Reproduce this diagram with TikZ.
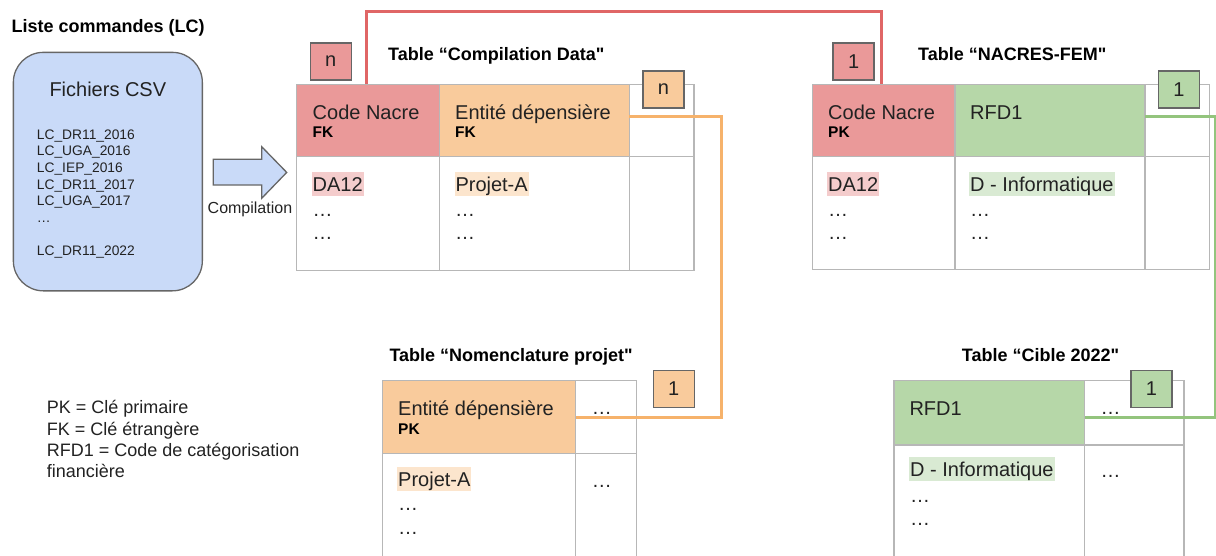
\documentclass[tikz,border=0pt]{standalone}
\usepackage{fontspec}
\setmainfont{Liberation Sans}
\newfontfamily\arialplain{Liberation Sans}
\definecolor{redfill}{HTML}{EA9999}
\definecolor{redline}{HTML}{E06666}
\definecolor{orfill}{HTML}{F9CB9C}
\definecolor{orline}{HTML}{F6B26B}
\definecolor{grfill}{HTML}{B6D7A8}
\definecolor{grline}{HTML}{93C47D}
\definecolor{bluefill}{HTML}{C9DAF8}
\definecolor{redhl}{HTML}{F4CCCC}
\definecolor{orhl}{HTML}{FCE5CD}
\definecolor{grhl}{HTML}{D9EAD3}
\definecolor{gridgray}{HTML}{B7B7B7}
\definecolor{darkgray}{HTML}{666666}
\definecolor{txtc}{HTML}{222222}
\tikzset{
  cell/.style={draw=gridgray, line width=1.2pt, inner sep=0pt, outer sep=0pt, anchor=north west},
  txt/.style={anchor=base west, inner sep=0pt, text=txtc, font=\fontsize{20}{24}\selectfont},
  keytxt/.style={anchor=base west, inner sep=0pt, text=black, font=\fontsize{15.5}{18}\selectfont\bfseries},
  ttl/.style={anchor=base west, inner sep=0pt, text=black, font=\arialplain\fontsize{18}{21}\selectfont\bfseries},
  hl/.style={txt, fill=#1, inner xsep=1pt, inner ysep=0pt, text height=19.5pt, text depth=4.5pt},
  tag/.style={draw=darkgray, line width=1.5pt, fill=#1, minimum width=41pt, minimum height=37pt, inner sep=0pt, text=txtc, font=\fontsize{20}{24}\selectfont},
  lst/.style={anchor=base west, inner sep=0pt, text=txtc, font=\fontsize{13.8}{16}\selectfont},
  leg/.style={anchor=base west, inner sep=0pt, text=txtc, font=\fontsize{18}{21}\selectfont},
  rel/.style={line width=3pt, #1},
}
\begin{document}
\begin{tikzpicture}[x=1pt,y=-1pt]
\useasboundingbox (0,0) rectangle (1216,555);

% ---- Left: Liste commandes
\node[anchor=base west, inner sep=0pt, font=\fontsize{18}{21}\selectfont\bfseries] (lctitle) at (11.5,32.5) {Liste commandes (LC)};
\node[draw=darkgray, fill=bluefill, line width=1.3pt, rounded corners=30pt, minimum width=189pt, minimum height=238.5pt, anchor=north west, inner sep=0pt] (csv) at (12.7,51.7) {};
\node[txt] (csvt) at (49.3,96.7) {Fichiers CSV};
\node[lst] (l1) at (36.7,139.3) {LC\_DR11\_2016};
\node[lst] (l2) at (36.7,155.9) {LC\_UGA\_2016};
\node[lst] (l3) at (36.7,172.5) {LC\_IEP\_2016};
\node[lst] (l4) at (36.7,189.1) {LC\_DR11\_2017};
\node[lst] (l5) at (36.7,205.7) {LC\_UGA\_2017};
\node[lst] (l6) at (36.7,222.3) {…};
\node[lst] (l7) at (36.7,255.5) {LC\_DR11\_2022};
\draw[draw=darkgray, fill=bluefill, line width=1.3pt, line join=miter]
  (213.3,159.3) -- (261.7,159.3) -- (261.7,146.7) -- (286.7,172.4) -- (261.7,198.3) -- (261.7,185) -- (213.3,185) -- cycle;
\node[anchor=base west, inner sep=0pt, text=txtc, font=\fontsize{16}{19}\selectfont] (comp) at (207.5,213.3) {Compilation};

% ---- Table Compilation Data
\node[ttl] (cdtitle) at (388,60) {Table “Compilation Data"};
\node[cell, fill=redfill, minimum width=142.6pt, minimum height=72.4pt] (cdA) at (296.7,84.3) {};
\node[cell, fill=orfill, minimum width=190pt, minimum height=72.4pt] (cdB) at (439.3,84.3) {};
\node[cell, minimum width=64.7pt, minimum height=72.4pt] (cdC) at (629.3,84.3) {};
\node[cell, minimum width=142.6pt, minimum height=114pt] (cdA2) at (296.7,156.7) {};
\node[cell, minimum width=190pt, minimum height=114pt] (cdB2) at (439.3,156.7) {};
\node[cell, minimum width=64.7pt, minimum height=114pt] (cdC2) at (629.3,156.7) {};
\node[txt] (cdAt) at (312.5,119.3) {Code Nacre};
\node[keytxt] (cdAk) at (312.5,137.3) {FK};
\node[txt] (cdBt) at (455,119.3) {Entité dépensière};
\node[keytxt] (cdBk) at (455,137.3) {FK};
\node[hl=redhl] (cdA2a) at (311.5,191.5) {DA12};
\node[txt] (cdA2b) at (312.5,216.5) {…};
\node[txt] (cdA2c) at (312.5,239.5) {…};
\node[hl=orhl] (cdB2a) at (454.3,191.5) {Projet-A};
\node[txt] (cdB2b) at (455,216.5) {…};
\node[txt] (cdB2c) at (455,239.5) {…};

% ---- Table NACRES-FEM
\node[ttl] (nftitle) at (918,60) {Table “NACRES-FEM"};
\node[cell, fill=redfill, minimum width=142.3pt, minimum height=72.4pt] (nfA) at (812.7,84.3) {};
\node[cell, fill=grfill, minimum width=190pt, minimum height=72.4pt] (nfB) at (955,84.3) {};
\node[cell, minimum width=64.3pt, minimum height=72.4pt] (nfC) at (1145,84.3) {};
\node[cell, minimum width=142.3pt, minimum height=113pt] (nfA2) at (812.7,156.7) {};
\node[cell, minimum width=190pt, minimum height=113pt] (nfB2) at (955,156.7) {};
\node[cell, minimum width=64.3pt, minimum height=113pt] (nfC2) at (1145,156.7) {};
\node[txt] (nfAt) at (828,119.3) {Code Nacre};
\node[keytxt] (nfAk) at (828,137.3) {PK};
\node[txt] (nfBt) at (970,119.3) {RFD1};
\node[hl=redhl] (nfA2a) at (827,191.5) {DA12};
\node[txt] (nfA2b) at (828,216.5) {…};
\node[txt] (nfA2c) at (828,239.5) {…};
\node[hl=grhl] (nfB2a) at (969,191.5) {D - Informatique};
\node[txt] (nfB2b) at (970,216.5) {…};
\node[txt] (nfB2c) at (970,239.5) {…};

% ---- Table Nomenclature projet
\node[ttl] (nptitle) at (389.3,361.5) {Table “Nomenclature projet"};
\node[cell, fill=orfill, minimum width=193pt, minimum height=72.6pt] (npA) at (382.7,380.7) {};
\node[cell, minimum width=61pt, minimum height=72.6pt] (npB) at (575.7,380.7) {};
\node[cell, minimum width=193pt, minimum height=104pt] (npA2) at (382.7,453.3) {};
\node[cell, minimum width=61pt, minimum height=104pt] (npB2) at (575.7,453.3) {};
\node[txt] (npAt) at (398,415) {Entité dépensière};
\node[keytxt] (npAk) at (398,434) {PK};
\node[txt] (npBt) at (591.7,414.5) {…};
\node[hl=orhl] (npA2a) at (397,486.7) {Projet-A};
\node[txt] (npA2b) at (398,510.5) {…};
\node[txt] (npA2c) at (398,534.5) {…};
\node[txt] (npB2a) at (591.7,487) {…};

% ---- Table Cible 2022
\node[ttl] (cbtitle) at (961.7,361.5) {Table “Cible 2022"};
\node[cell, fill=grfill, minimum width=190.7pt, minimum height=64.3pt] (cbA) at (894,380.7) {};
\node[cell, minimum width=99.3pt, minimum height=64.3pt] (cbB) at (1084.7,380.7) {};
\node[cell, minimum width=190.7pt, minimum height=112pt] (cbA2) at (894,445) {};
\node[cell, minimum width=99.3pt, minimum height=112pt] (cbB2) at (1084.7,445) {};
\node[txt] (cbAt) at (909.3,415) {RFD1};
\node[txt] (cbBt) at (1100.5,414.5) {…};
\node[hl=grhl] (cbA2a) at (909,476.7) {D - Informatique};
\node[txt] (cbA2b) at (910,502) {…};
\node[txt] (cbA2c) at (910,525.5) {…};
\node[txt] (cbB2a) at (1100.5,477) {…};

% ---- Relations
\draw[rel=redline] ([xshift=70pt]cdA.north west) -- ++(0,-72.5) -| ([xshift=69pt]nfA.north west);
\draw[rel=orline] ([yshift=3.8pt]cdB.east) -- ++(92.4,0) |- ([yshift=-0.3pt]npA.east);
\draw[rel=grline] ([yshift=3.8pt]nfB.east) -- ++(70,0) |- ([yshift=-4.4pt]cbA.east);

% ---- Cardinality tags
\node[tag=redfill] (t1) at (330.8,61.3) {n};
\node[tag=orfill] (t2) at (663.5,89.3) {n};
\node[tag=redfill] (t3) at (853.7,61.3) {1};
\node[tag=grfill] (t4) at (1178.8,89.3) {1};
\node[tag=orfill] (t5) at (673.8,389) {1};
\node[tag=grfill] (t6) at (1151.5,389) {1};

% ---- Legend
\node[leg] (lg1) at (46.7,413.3) {PK = Clé primaire};
\node[leg] (lg2) at (46.7,435) {FK = Clé étrangère};
\node[leg] (lg3) at (46.7,456.7) {RFD1 = Code de catégorisation};
\node[leg] (lg4) at (46.7,477.5) {financière};
\end{tikzpicture}
\end{document}
